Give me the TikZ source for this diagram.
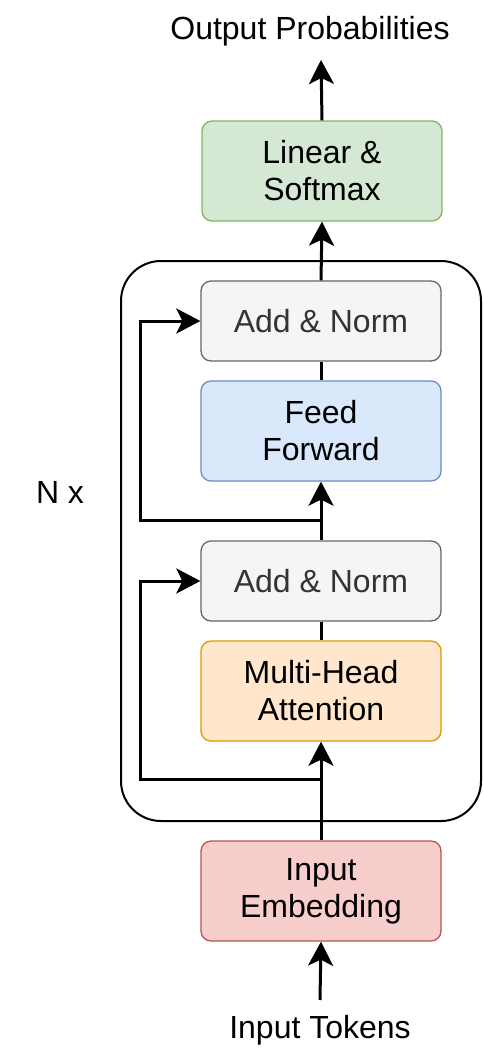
\documentclass[tikz,border=0pt]{standalone}
\usepackage{fontspec}
\setmainfont{Liberation Sans}
\usetikzlibrary{arrows.meta}
\definecolor{lingreen}{HTML}{D5E8D4}
\definecolor{lingreenline}{HTML}{82B366}
\definecolor{normgray}{HTML}{F5F5F5}
\definecolor{normgrayline}{HTML}{666666}
\definecolor{normtext}{HTML}{333333}
\definecolor{ffblue}{HTML}{DAE8FC}
\definecolor{ffblueline}{HTML}{6C8EBF}
\definecolor{attorange}{HTML}{FFE6CC}
\definecolor{attorangeline}{HTML}{D79B00}
\definecolor{embred}{HTML}{F8CECC}
\definecolor{embredline}{HTML}{B85450}

\begin{document}
\begin{tikzpicture}[x=0.5pt, y=-0.5pt, font=\fontsize{16pt}{18.5pt}\selectfont,
    blk/.style={draw, rounded corners=5pt, minimum width=120pt, align=center, line width=0.65pt},
    arr/.style={-{Stealth[length=12pt,width=12.5pt,inset=3pt]}, line width=1.5pt},
    lnk/.style={line width=1.5pt}]
			\useasboundingbox (0,0) rectangle (482,1060);
			% repeated block
			\node[draw, rounded corners=20pt, line width=1pt, minimum width=180pt, minimum height=280pt] (stack) at (301,541) {};
			\node at (60,492) (nx) {N x};
			% blocks
			\node[blk, fill=embred, draw=embredline, minimum height=50pt] (emb) at (321,891) {Input\\Embedding};
			\node[blk, fill=attorange, draw=attorangeline, minimum height=50pt] (mha) at (321,691) {Multi-Head\\Attention};
			\node[blk, fill=normgray, draw=normgrayline, text=normtext, minimum height=40pt] (an1) at (321,581) {Add \& Norm};
			\node[blk, fill=ffblue, draw=ffblueline, minimum height=50pt] (ff) at (321,431) {Feed\\Forward};
			\node[blk, fill=normgray, draw=normgrayline, text=normtext, minimum height=40pt] (an2) at (321,321) {Add \& Norm};
			\node[blk, fill=lingreen, draw=lingreenline, minimum height=50pt] (lin) at (322,171) {Linear \&\\Softmax};
			% texts
			\node (tok) at (320,1030) {Input Tokens};
			\node (prob) at (310,31) {Output Probabilities};
			\coordinate (tokend) at (320,1000);
			\coordinate (probend) at (321,60);
			\coordinate (j1) at (320,779);
			\coordinate (j2) at (320,520);
			% connectors
			\draw[arr] (tokend) -- (emb.south);
			\draw[arr] (emb.north) -- (mha.south);
			\draw[arr] (j1) -- (140,779) |- (an1.west);
			\draw[lnk] (mha.north) -- (an1.south);
			\draw[arr] (an1.north) -- (ff.south);
			\draw[arr] (j2) -- (140,520) |- (an2.west);
			\draw[lnk] (ff.north) -- (an2.south);
			\draw[arr] (an2.north) -- (lin.south);
			\draw[arr] (lin.north) -- (probend);
		\end{tikzpicture}
\end{document}
